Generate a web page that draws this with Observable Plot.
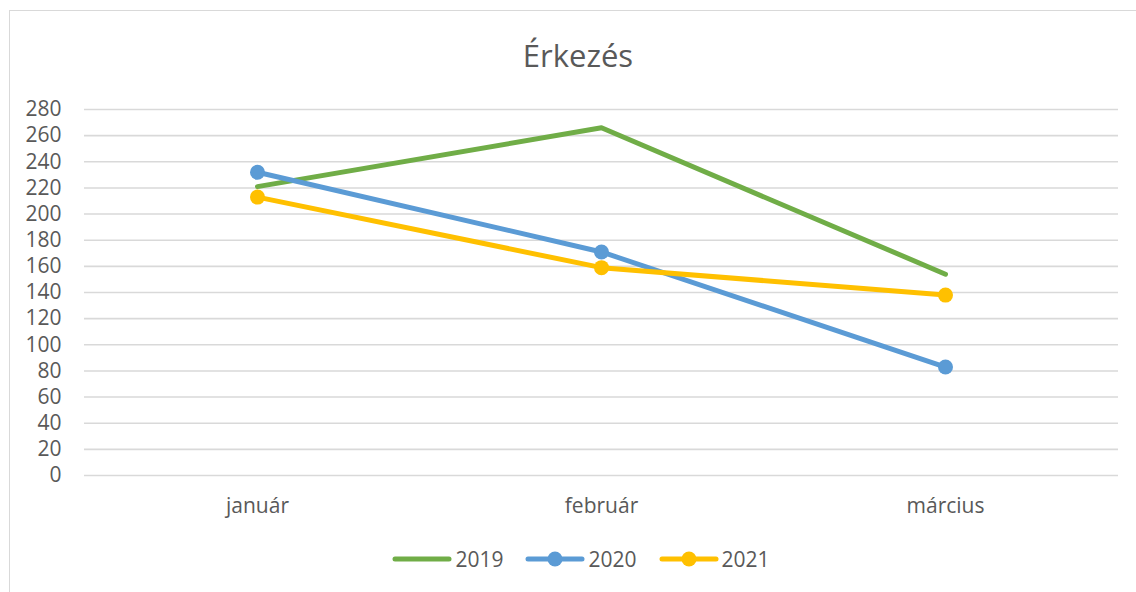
<!DOCTYPE html>
<html>
<head>
<meta charset="utf-8">
<script src="https://cdn.jsdelivr.net/npm/d3@7"></script>
<script src="https://cdn.jsdelivr.net/npm/@observablehq/plot@0.6"></script>
<style>
  body { margin: 0; background: #fff; font-family: "Open Sans", sans-serif; }
  #wrap { position: relative; width: 1136px; height: 592px; overflow: hidden; background: #fff; }
  #frame { position: absolute; left: 9px; top: 10px; width: 1140px; height: 600px; border: 1px solid #d9d9d9; box-sizing: border-box; }
  #title { position: absolute; left: 0; width: 1156px; top: 34px; text-align: center; font-size: 31px; color: #595959; line-height: 42px; }
  #chart { position: absolute; left: 0; top: 90px; }
  #legend { position: absolute; left: 13px; width: 1136px; top: 545px; display: flex; justify-content: center; font-size: 21px; color: #595959; }
  .item { display: flex; align-items: center; margin: 0 11px; }
  .item svg { margin-right: 3px; }
</style>
</head>
<body>
<div id="wrap">
  <div id="frame"></div>
  <div id="title">Érkezés</div>
  <div id="chart"></div>
  <div id="legend"></div>
</div>
<script>
const months = ["január", "február", "március"];
const years = ["2019", "2020", "2021"];
const values2019 = [221, 266, 154];
const values2020 = [232, 171, 83];
const values2021 = [213, 159, 138];
const colors = ["#70ad47", "#5b9bd5", "#ffc000"];
const withMarkers = [false, true, true];
const yTicks = d3.range(0, 281, 20);

const seriesValues = [values2019, values2020, values2021];
const series = years.map((y, i) => months.map((m, j) => ({ month: m, year: y, value: seriesValues[i][j] })));

const marks = [
  Plot.gridY(yTicks, { stroke: "#d9d9d9", strokeOpacity: 1, strokeWidth: 1.6 }),
  Plot.axisY(yTicks, { tickSize: 0, tickPadding: 23, fontSize: 21, fill: "#595959" }),
  Plot.axisX({ tickSize: 0, tickPadding: 23, fontSize: 21, fill: "#595959" })
];
series.forEach((data, i) => {
  marks.push(Plot.line(data, { x: "month", y: "value", stroke: colors[i], strokeWidth: 5, strokeLinecap: "round", strokeLinejoin: "round" }));
  if (withMarkers[i]) {
    marks.push(Plot.dot(data, { x: "month", y: "value", fill: colors[i], r: 7.5, stroke: "none" }));
  }
});

const chart = Plot.plot({
  width: 1136,
  height: 440,
  marginLeft: 84,
  marginRight: 18,
  marginTop: 19,
  marginBottom: 55,
  style: { fontFamily: "Open Sans, sans-serif", fontSize: "21px", color: "#595959", background: "transparent" },
  x: { type: "point", domain: months, padding: 0.5, label: null },
  y: { domain: [0, 280], label: null },
  marks
});
document.getElementById("chart").appendChild(chart);

const legend = document.getElementById("legend");
years.forEach((y, i) => {
  const item = document.createElement("div");
  item.className = "item";
  const svgNS = "http://www.w3.org/2000/svg";
  const s = document.createElementNS(svgNS, "svg");
  s.setAttribute("width", 60); s.setAttribute("height", 20);
  const l = document.createElementNS(svgNS, "line");
  l.setAttribute("x1", 3); l.setAttribute("x2", 57); l.setAttribute("y1", 10); l.setAttribute("y2", 10);
  l.setAttribute("stroke", colors[i]); l.setAttribute("stroke-width", 5); l.setAttribute("stroke-linecap", "round");
  s.appendChild(l);
  if (withMarkers[i]) {
    const c = document.createElementNS(svgNS, "circle");
    c.setAttribute("cx", 30); c.setAttribute("cy", 10); c.setAttribute("r", 7.5); c.setAttribute("fill", colors[i]);
    s.appendChild(c);
  }
  item.appendChild(s);
  const t = document.createElement("span");
  t.textContent = y;
  item.appendChild(t);
  legend.appendChild(item);
});
</script>
</body>
</html>
